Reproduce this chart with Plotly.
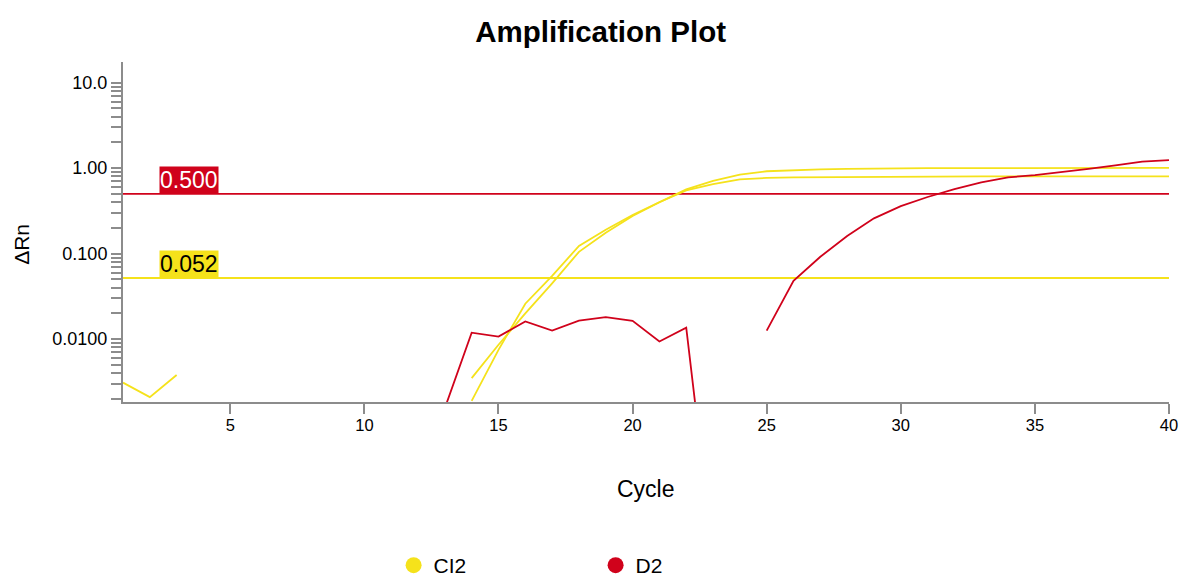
import numpy as np
import plotly.graph_objects as go

cycles = list(range(1, 41))
N = None

ci2_well_a = [0.0031, 0.0021, 0.0038] + [N] * 10 + [
    0.0035, 0.0086, 0.020, 0.045, 0.105, 0.176, 0.276, 0.40, 0.55, 0.65,
    0.74, 0.77, 0.78, 0.785, 0.79, 0.79, 0.795, 0.795,
    0.80, 0.80, 0.80, 0.80, 0.80, 0.80, 0.80, 0.80, 0.80]
ci2_well_b = [N] * 13 + [
    0.0019, 0.0075, 0.026, 0.055, 0.123, 0.19, 0.283, 0.40, 0.565, 0.71,
    0.84, 0.92, 0.95, 0.97, 0.98, 0.99, 0.99, 1.0, 1.0, 1.0, 1.0,
    1.01, 1.01, 1.01, 1.01, 1.01, 1.01]
d2_well = [N] * 12 + [
    0.00156, 0.0119, 0.0107, 0.0161, 0.0126, 0.0165, 0.0181, 0.0164, 0.0094,
    0.0136, 0.00003, N,
    0.0126, 0.048, 0.092, 0.161, 0.259, 0.36, 0.46, 0.57, 0.68, 0.78,
    0.83, 0.90, 0.98, 1.08, 1.19, 1.24]

thresholds = {"CI2": 0.052, "D2": 0.500}
threshold_labels = {"CI2": "0.052", "D2": "0.500"}

YELLOW = "#F5E21B"
RED = "#D0021B"
GRAY = "#8C8C8C"
FONT = "Liberation Sans, Arial, sans-serif"

x_ticks = [5, 10, 15, 20, 25, 30, 35, 40]
y_major = [0.01, 0.1, 1.0, 10.0]
y_major_text = ["0.0100", "0.100", "1.00", "10.0"]

y_tickvals, y_ticktext = [], []
for dec in [0.001, 0.01, 0.1, 1.0, 10.0]:
    for m in range(1, 10):
        v = round(dec * m, 6)
        y_tickvals.append(v)
        if v in y_major:
            y_ticktext.append(y_major_text[y_major.index(v)])
        else:
            y_ticktext.append("")

fig = go.Figure()

# threshold lines
fig.add_trace(go.Scatter(x=[1, 40], y=[thresholds["D2"]] * 2, mode="lines",
                         line=dict(color=RED, width=1.6), showlegend=False, hoverinfo="skip"))
fig.add_trace(go.Scatter(x=[1, 40], y=[thresholds["CI2"]] * 2, mode="lines",
                         line=dict(color=YELLOW, width=2), showlegend=False, hoverinfo="skip"))

for ys in [ci2_well_a, ci2_well_b]:
    fig.add_trace(go.Scatter(x=cycles, y=ys, mode="lines", line=dict(color=YELLOW, width=1.8),
                             showlegend=False, connectgaps=False))
fig.add_trace(go.Scatter(x=cycles, y=d2_well, mode="lines", line=dict(color=RED, width=1.8),
                         showlegend=False, connectgaps=False))

# legend entries
fig.add_trace(go.Scatter(x=[None], y=[None], mode="markers", name="CI2",
                         marker=dict(color=YELLOW, size=22, symbol="circle")))
fig.add_trace(go.Scatter(x=[None], y=[None], mode="markers", name="D2",
                         marker=dict(color=RED, size=22, symbol="circle")))

for key, bg, fc in [("D2", RED, "white"), ("CI2", YELLOW, "black")]:
    fig.add_annotation(x=2.36, y=np.log10(thresholds[key]), xref="x", yref="y",
                       text=threshold_labels[key], showarrow=False, xanchor="left",
                       yanchor="bottom", bgcolor=bg, borderpad=0,
                       font=dict(family=FONT, size=23, color=fc))

fig.add_annotation(x=-0.0966, y=0.465, xref="paper", yref="paper", text="ΔRn",
                   showarrow=False, textangle=-90, xanchor="center", yanchor="middle",
                   font=dict(family=FONT, size=21, color="black"))
fig.add_annotation(x=0.5, y=-0.2548, xref="paper", yref="paper", text="Cycle",
                   showarrow=False, xanchor="center", yanchor="middle",
                   font=dict(family=FONT, size=23, color="black"))

fig.update_layout(
    width=1180, height=577,
    margin=dict(l=123, r=11, t=62, b=175, autoexpand=False),
    paper_bgcolor="white", plot_bgcolor="white",
    title=dict(text="<b>Amplification Plot</b>", x=0.509, xanchor="center", y=0.9445,
               yanchor="middle", font=dict(family=FONT, size=29.5, color="black")),
    xaxis=dict(range=[1, 40], tickvals=x_ticks, showgrid=False, zeroline=False,
               showline=True, linecolor=GRAY, linewidth=2, ticks="outside", ticklen=10,
               tickwidth=2, tickcolor=GRAY, ticklabelstandoff=-3, ticklabeloverflow="allow",
               tickfont=dict(family=FONT, size=16.5, color="black")),
    yaxis=dict(type="log", range=[np.log10(0.00184), 1.242], tickvals=y_tickvals,
               ticktext=y_ticktext, showgrid=False, zeroline=False, showline=True,
               linecolor=GRAY, linewidth=2, ticks="outside", ticklen=10, tickwidth=1.5,
               tickcolor=GRAY, tickfont=dict(family=FONT, size=18, color="black")),
    legend=dict(orientation="h", x=0.2587, y=-0.481, xanchor="left", yanchor="middle",
                entrywidth=157, font=dict(family=FONT, size=21, color="black"),
                itemsizing="trace"),
    showlegend=True,
)

fig.write_html("out.html", config={"displayModeBar": False},
               post_script="document.body.style.margin='0';document.body.style.overflow='hidden';")
